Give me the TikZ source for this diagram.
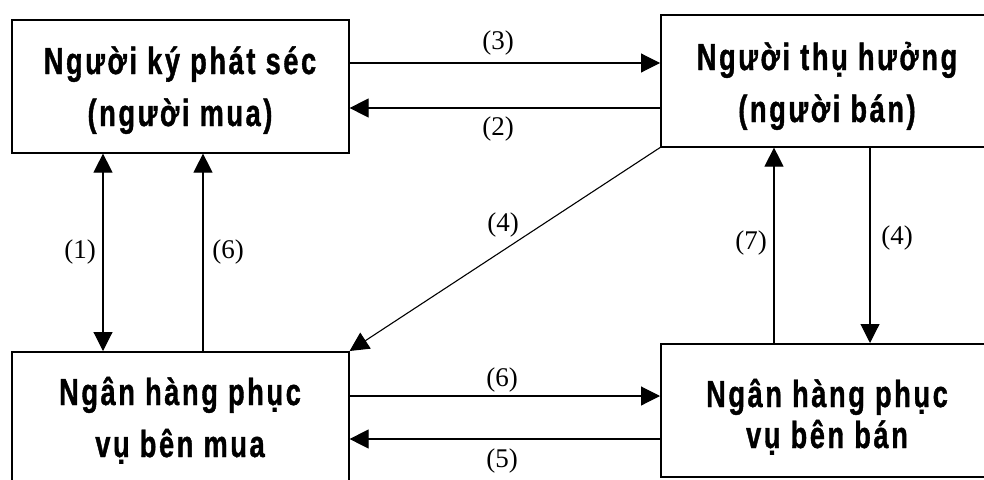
\documentclass[tikz,border=0pt]{standalone}
\usepackage{fontspec}
\setmainfont{Liberation Serif}
\newfontfamily\boxfont{Liberation Sans Bold}[FakeStretch=0.72,LetterSpace=7,FakeBold=1]
\usetikzlibrary{arrows.meta}
\begin{document}
\begin{tikzpicture}[x=1pt,y=-1pt,
  box/.style={draw,line width=1.6pt,rectangle,inner sep=0pt,anchor=north west},
  boxtext/.style={font=\boxfont\fontsize{37.7}{52}\selectfont,align=center,inner sep=0pt,anchor=base},
  lbl/.style={font=\fontsize{27}{30}\selectfont,inner sep=0pt},
  arr/.style={line width=1.1pt,-{Triangle[length=19pt,width=19pt]}},
  darr/.style={line width=1.1pt,{Triangle[length=19pt,width=19pt]}-{Triangle[length=19pt,width=19pt]}}
]
\clip (0,0) rectangle (984,479);
\fill[white] (0,0) rectangle (984,479);
% boxes
\node[box,minimum width=337pt,minimum height=133pt] (tl) at (11,19) {};
\node[box,minimum width=334pt,minimum height=132pt] (tr) at (660,14) {};
\node[box,minimum width=337pt,minimum height=160pt] (bl) at (11,351) {};
\node[box,minimum width=334pt,minimum height=133pt] (br) at (660,343) {};
% box texts (anchor base = baseline of last line)
\node[boxtext] (tltext) at (180,126) {Người ký phát séc\\(người mua)};
\node[boxtext] (trtext) at (827,122) {Người thụ hưởng\\(người bán)};
\node[boxtext] (bltext) at (180,457) {Ngân hàng phục\\vụ bên mua};
\node[boxtext,font=\boxfont\fontsize{37.7}{41}\selectfont] (brtext) at (827,448) {Ngân hàng phục\\vụ bên bán};
% horizontal arrows
\draw[arr] (tl.east |- 0,63) -- (tr.west |- 0,63);
\draw[arr] (tr.west |- 0,108) -- (tl.east |- 0,108);
\draw[arr] (bl.east |- 0,396) -- (br.west |- 0,396);
\draw[arr] (br.west |- 0,439) -- (bl.east |- 0,439);
% vertical arrows
\draw[darr] (103,0 |- tl.south) -- (103,0 |- bl.north);
\draw[arr] (203,0 |- bl.north) -- (203,0 |- tl.south);
\draw[arr] (774,0 |- br.north) -- (774,0 |- tr.south);
\draw[arr] (870,0 |- tr.south) -- (870,0 |- br.north);
% diagonal
\draw[arr] (tr.south west) -- (bl.north east);
% labels
\node[lbl] (l3) at (498,43) {(3)};
\node[lbl] (l2) at (498,129) {(2)};
\node[lbl] (l6b) at (502,380) {(6)};
\node[lbl] (l5) at (502,461) {(5)};
\node[lbl] (l1) at (80,252) {(1)};
\node[lbl] (l6a) at (228,252) {(6)};
\node[lbl] (l7) at (751,243) {(7)};
\node[lbl] (l4r) at (897,238) {(4)};
\node[lbl] (l4d) at (503,225) {(4)};
\end{tikzpicture}
\end{document}
